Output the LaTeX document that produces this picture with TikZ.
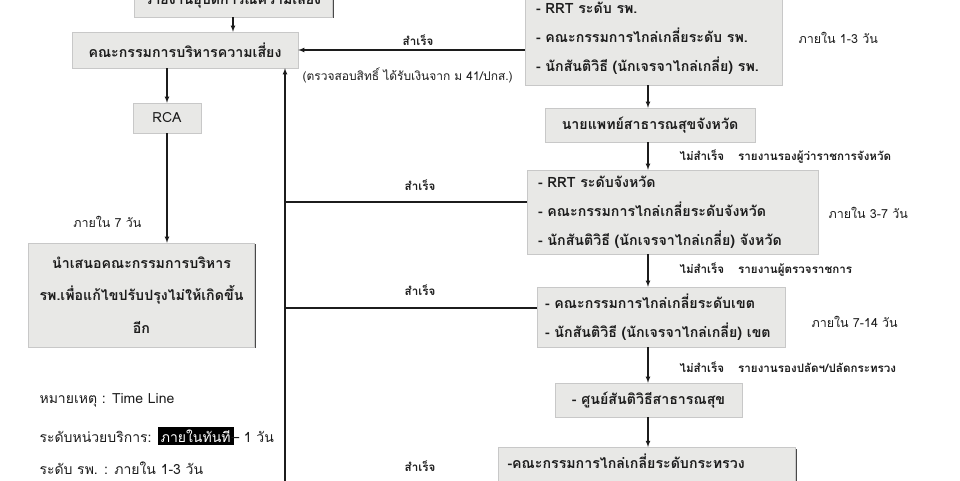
\documentclass[tikz,border=0pt]{standalone}
\usepackage{fontspec}
\setmainfont[Script=Thai]{Loma}
\usepackage{tikz}
\usetikzlibrary{arrows, positioning, shadows}
\definecolor{scangray}{RGB}{232,232,230}
\definecolor{inkblack}{RGB}{28,28,28}
\definecolor{edgegray}{RGB}{200,200,200}

\begin{document}
\begin{tikzpicture}[x=1pt, y=-1pt, >=latex,
    levelbox/.style={draw=edgegray, fill=scangray, inner xsep=11pt, inner ysep=0pt,
        drop shadow={shadow xshift=1.4pt, shadow yshift=-1.4pt, fill=inkblack!80, opacity=1},
        font=\bfseries\fontsize{14.2}{29}\selectfont, text=inkblack},
    flow/.style={->, line width=1.1pt, draw=inkblack},
    link/.style={line width=1.1pt, draw=inkblack},
    tag/.style={font=\bfseries\fontsize{11.6}{13}\selectfont, text=inkblack},
    span/.style={font=\fontsize{12.5}{14}\selectfont, text=inkblack},
    legend/.style={font=\fontsize{14}{16}\selectfont, text=inkblack, anchor=west}]
    \useasboundingbox (0,0) rectangle (960,480);
    % Left column
    \node[levelbox, minimum width=170pt, minimum height=36pt] (report) at (233,-1)
        {รายงานอุบัติการณ์ความเสี่ยง};
    \node[levelbox, minimum width=226pt, minimum height=36pt] (risk) at (185,50)
        {คณะกรรมการบริหารความเสี่ยง};
    \node[levelbox, minimum width=68pt, minimum height=30pt,
        font=\fontsize{14}{16}\selectfont] (rca) at (167,118) {RCA};
    \node[levelbox, minimum width=223pt, minimum height=104pt, align=center,
        font=\bfseries\fontsize{14.2}{32.5}\selectfont] (present) at (141.5,295)
        {นำเสนอคณะกรรมการบริหาร\\รพ.เพื่อแก้ไขปรับปรุงไม่ให้เกิดขึ้น\\อีก};
    % Right column
    \node[levelbox, minimum width=257pt, minimum height=94pt, text width=235pt,
        align=left] (hosp) at (653.5,38)
        {- RRT ระดับ รพ.\\- คณะกรรมการไกล่เกลี่ยระดับ รพ.\\- นักสันติวิธี (นักเจรจาไกล่เกลี่ย) รพ.};
    \node[levelbox, minimum width=210pt, minimum height=34pt] (mophp) at (650,125)
        {นายแพทย์สาธารณสุขจังหวัด};
    \node[levelbox, minimum width=291pt, minimum height=84pt, text width=269pt,
        align=left] (prov) at (672.5,212)
        {- RRT ระดับจังหวัด\\- คณะกรรมการไกล่เกลี่ยระดับจังหวัด\\- นักสันติวิธี (นักเจรจาไกล่เกลี่ย) จังหวัด};
    \node[levelbox, minimum width=248pt, minimum height=60pt, text width=232pt,
        align=left, inner xsep=8pt] (zone) at (661,317)
        {- คณะกรรมการไกล่เกลี่ยระดับเขต\\- นักสันติวิธี (นักเจรจาไกล่เกลี่ย) เขต};
    \node[levelbox, minimum width=187pt, minimum height=34pt] (peace) at (648.5,400)
        {- ศูนย์สันติวิธีสาธารณสุข};
    \node[levelbox, anchor=north, minimum width=297pt, text width=279pt, align=left,
        inner xsep=9pt, inner ysep=9pt, text height=12pt, text depth=50pt] (ministry)
        at (647,447) {-คณะกรรมการไกล่เกลี่ยระดับกระทรวง};
    % Time limits
    \node[span, anchor=west] (d1) at (795,38) {ภายใน 1-3 วัน};
    \node[span, anchor=west] (d2) at (825,213) {ภายใน 3-7 วัน};
    \node[span, anchor=west] (d3) at (808,322) {ภายใน 7-14 วัน};
    \node[span, anchor=east] (d0) at (145,222) {ภายใน 7 วัน};
    % Fail / success labels
    \node[tag, anchor=west] (f1) at (676,157)
        {ไม่สำเร็จ\hspace{14pt}รายงานรองผู้ว่าราชการจังหวัด};
    \node[tag, anchor=west] (f2) at (676,270)
        {ไม่สำเร็จ\hspace{14pt}รายงานผู้ตรวจราชการ};
    \node[tag, anchor=west] (f3) at (676,367)
        {ไม่สำเร็จ\hspace{14pt}รายงานรองปลัดฯ/ปลัดกระทรวง};
    \node[tag] (s1) at (418,40) {สำเร็จ};
    \node[tag] (s2) at (420,185) {สำเร็จ};
    \node[tag] (s3) at (420,290) {สำเร็จ};
    \node[tag] (s4) at (420,466) {สำเร็จ};
    \node[span, anchor=west, font=\fontsize{12}{14}\selectfont] (check) at (299,75)
        {(ตรวจสอบสิทธิ์ ได้รับเงินจาก ม 41/ปกส.)};
    % Legend
    \node[legend] (lg1) at (36,400) {หมายเหตุ : Time Line};
    \node[legend] (lg2) at (36,436)
        {ระดับหน่วยบริการ: \colorbox{black}{\color{white}ภายในทันที}\hspace{-2pt}– 1 วัน};
    \node[legend] (lg3) at (36,468) {ระดับ รพ. : ภายใน 1-3 วัน};
    % Connectors
    \coordinate (spine) at (285,495);
    \coordinate (col) at (648,0);
    \draw[flow] (report.south) -- (report.south |- risk.north);
    \draw[flow] (rca.north |- risk.south) -- (rca.north);
    \draw[flow] (rca.south) -- (rca.south |- present.north);
    \draw[flow] (hosp.west |- risk.east) -- (risk.east);
    \draw[flow] (spine) -- (spine |- risk.south);
    \foreach \b/\y in {prov/202, zone/308, ministry/487}
        \draw[link] (\b.west |- 0,\y) -- (spine |- 0,\y);
    \foreach \a/\b in {hosp/mophp, mophp/prov, prov/zone, zone/peace, peace/ministry}
        \draw[flow] (\a.south -| col) -- (\b.north -| col);
\end{tikzpicture}
\end{document}
